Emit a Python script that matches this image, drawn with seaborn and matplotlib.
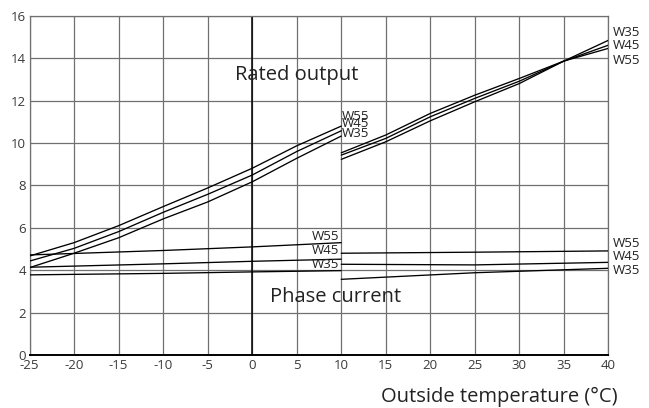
import pandas as pd
import seaborn as sns
import matplotlib.pyplot as plt

# outside temperature (°C) for the two operating ranges
temp_low = [-25, -20, -15, -10, -5, 0, 5, 10]
temp_high = [10, 15, 20, 25, 30, 35, 40]

# rated output
rated_w55_low = [4.67, 5.30, 6.10, 7.00, 7.88, 8.81, 9.87, 10.80]
rated_w45_low = [4.43, 5.03, 5.82, 6.73, 7.58, 8.49, 9.60, 10.58]
rated_w35_low = [4.12, 4.80, 5.53, 6.42, 7.22, 8.17, 9.28, 10.33]
rated_w55_high = [9.54, 10.38, 11.40, 12.26, 13.05, 13.87, 14.47]
rated_w45_high = [9.43, 10.22, 11.24, 12.11, 12.92, 13.87, 14.62]
rated_w35_high = [9.23, 10.06, 11.05, 11.95, 12.81, 13.87, 14.85]

# phase current
phase_t_low = [-25, -10, 0, 10]
phase_t_high = [10, 25, 40]
phase_w55_low = [4.72, 4.93, 5.10, 5.30]
phase_w45_low = [4.14, 4.30, 4.42, 4.52]
phase_w35_low = [3.78, 3.85, 3.92, 3.98]
phase_w55_high = [4.80, 4.85, 4.91]
phase_w45_high = [4.28, 4.25, 4.37]
phase_w35_high = [3.57, 3.88, 4.09]

x_ticks = [-25, -20, -15, -10, -5, 0, 5, 10, 15, 20, 25, 30, 35, 40]
y_ticks = [0, 2, 4, 6, 8, 10, 12, 14, 16]

sns.set_style("white")
plt.rcParams['font.family'] = ['Open Sans', 'DejaVu Sans']

fig = plt.figure(figsize=(6.49, 4.08), dpi=100)
ax = fig.add_axes([0.0455, 0.130, 0.892, 0.831])

series = [
    (temp_low, rated_w55_low), (temp_low, rated_w45_low), (temp_low, rated_w35_low),
    (temp_high, rated_w55_high), (temp_high, rated_w45_high), (temp_high, rated_w35_high),
    (phase_t_low, phase_w55_low), (phase_t_low, phase_w45_low), (phase_t_low, phase_w35_low),
    (phase_t_high, phase_w55_high), (phase_t_high, phase_w45_high), (phase_t_high, phase_w35_high),
]
for xs, ys in series:
    df = pd.DataFrame({'t': xs, 'v': ys})
    sns.lineplot(data=df, x='t', y='v', color='black', linewidth=0.95, ax=ax, zorder=3)

ax.set_xlim(-25, 40)
ax.set_ylim(0, 16)
ax.set_xticks(x_ticks)
ax.set_yticks(y_ticks)
ax.set_xticklabels([str(t) for t in x_ticks])
ax.grid(True, color='#707070', linewidth=0.9)
ax.axvline(0, color='black', linewidth=1.1, zorder=2)
ax.tick_params(length=0, labelsize=9.5, labelcolor='#3a3a3a', pad=3)
ax.tick_params(axis='y', pad=2.5)
for s in ['left', 'right', 'top']:
    ax.spines[s].set_color('#707070')
    ax.spines[s].set_linewidth(0.9)
ax.spines['bottom'].set_color('black')
ax.spines['bottom'].set_linewidth(1.4)
ax.set_xlabel('')
ax.set_ylabel('')

lab = dict(fontsize=9.5, color='#222222', va='center')
# labels at the end of the low range
for name, y in [('W55', 11.27), ('W45', 10.90), ('W35', 10.46)]:
    ax.text(10.05, y, name, ha='left', **lab)
for name, y in [('W55', 5.58), ('W45', 4.95), ('W35', 4.29)]:
    ax.text(9.8, y, name, ha='right', **lab)
# labels at the right edge
for name, y in [('W35', 15.22), ('W45', 14.62), ('W55', 13.88),
                ('W55', 5.24), ('W45', 4.64), ('W35', 3.98)]:
    ax.text(40.45, y, name, ha='left', clip_on=False, **lab)

ax.text(5, 13.2, 'Rated output', ha='center', va='center', fontsize=14.5, color='#222222')
ax.text(9.35, 2.75, 'Phase current', ha='center', va='center', fontsize=14.5, color='#222222')
fig.text(0.952, 0.027, 'Outside temperature (°C)', ha='right', va='center',
         fontsize=14.5, color='#222222')

fig.savefig('out.png', dpi=100)
